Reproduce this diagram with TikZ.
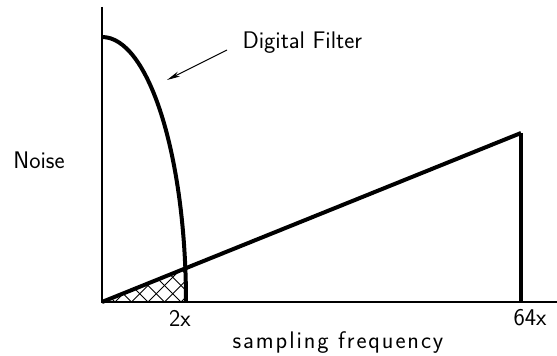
\documentclass[tikz,border=0pt]{standalone}
\usepackage{fontspec}
\setsansfont{Latin Modern Sans}
\newfontfamily\freqfont{Latin Modern Sans}[LetterSpace=8]
\usetikzlibrary{arrows.meta}

\tikzset{every picture/.style={line width=0.75pt}}
\tikzset{
  lbl/.style={inner sep=0.75pt, font=\fontsize{18}{22}\selectfont\sffamily},
  thin axis/.style={line width=1.2pt},
  heavy/.style={line width=3pt},
  hatchline/.style={line width=0.6pt},
}

\begin{document}
\begin{tikzpicture}[x=0.75pt,y=0.75pt,yscale=-1,xscale=1]
    \useasboundingbox (0,0) rectangle (557,356);
    
    % corner points
    \coordinate (O) at (102,302);
    \coordinate (ytop) at (102,7);
    \coordinate (xend) at (557,302);
    \coordinate (ftop) at (102,37);
    \coordinate (peak) at (521,133);
    \coordinate (pfoot) at (521,302);
    \coordinate (arrtail) at (227,50);
    \coordinate (arrtip) at (167,80);
    
    % cross hatch under the filter
    \begin{scope}
      \clip (O) -- (peak) -- (pfoot) -- cycle;
      \clip (O) ellipse [x radius=84, y radius=265];
      \foreach \k in {-1,...,6} {
        \draw [hatchline] (115+16.5*\k,302) -- ++(60,-60);
        \draw [hatchline] (115+16.5*\k,302) -- ++(-60,-60);
      }
    \end{scope}
    
    %Straight Lines (axes)
    \draw [thin axis] (ytop) -- (O) -- (xend) ;
    %Filter curve
    \draw [heavy] (ftop) arc [start angle=-90, end angle=0, x radius=84, y radius=265] ;
    %Straight Lines (noise ramp)
    \draw [heavy] (O) -- (peak) ;
    \draw [line width=2.3pt] (peak) -- (pfoot) ;
    
    % Text Node
    \node [lbl] (noise) at (39,160) {Noise};
    % Text Node
    \node [lbl, anchor=west] (filt) at (241,43) {Digital Filter};
    % Text Node
    \node [lbl] (two) at (180,318) {2x};
    % Text Node
    \node [lbl] (sixtyfour) at (530,318) {64x};
    % Text Node
    \node [lbl, font=\fontsize{18}{22}\selectfont\freqfont] (freq) at (338,343) {sampling frequency};
    
    %Arrow to the filter curve
    \draw [-{Stealth[length=10pt,width=4pt]}] (arrtail) -- (arrtip) ;
    
\end{tikzpicture}
\end{document}
